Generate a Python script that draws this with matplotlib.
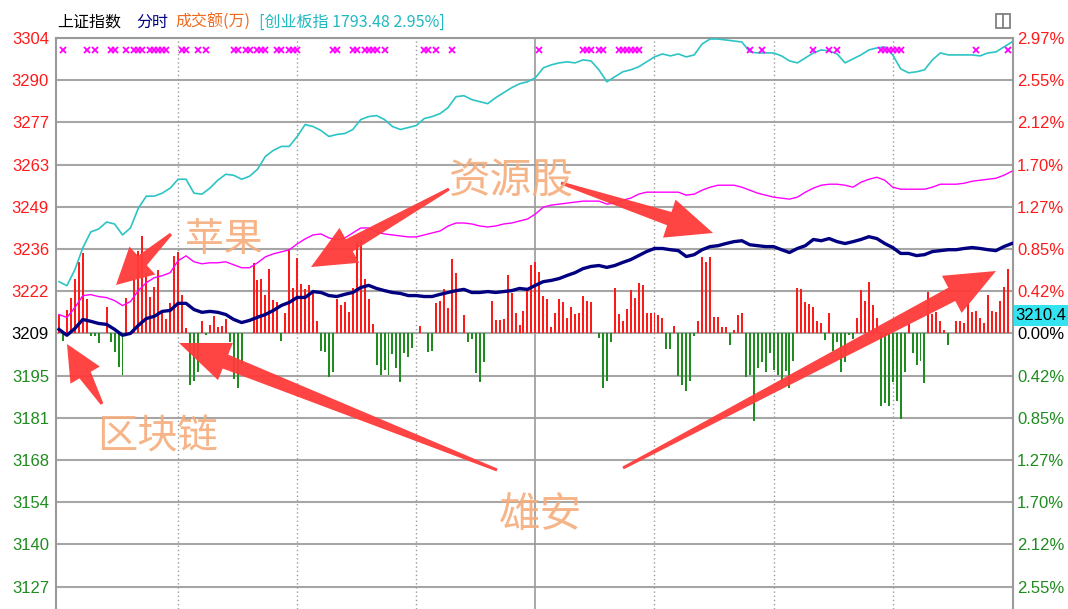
import numpy as np
import matplotlib
matplotlib.use("Agg")
import matplotlib.pyplot as plt
from matplotlib.patches import Polygon, Rectangle
from matplotlib.lines import Line2D
from matplotlib import font_manager

plt.rcParams['font.family'] = ['Noto Sans CJK SC', 'DejaVu Sans']

W, H = 1068, 609
PREV_CLOSE = 3208.7
STEP_PCT = 0.4243

# ---------------- data ----------------
minutes2 = np.arange(0, 241, 2)

sh_price = [3210.0, 3208.1, 3210.3, 3213.2, 3212.6, 3211.9, 3211.6, 3210.0, 3208.1, 3208.7,
            3211.3, 3213.5, 3214.2, 3215.8, 3216.1, 3218.4, 3218.4, 3216.4, 3215.5, 3215.8,
            3215.5, 3214.8, 3213.2, 3212.2, 3212.9, 3213.9, 3214.8, 3216.1, 3217.7, 3218.7,
            3220.3, 3220.3, 3222.2, 3221.9, 3220.9, 3220.6, 3221.3, 3221.9, 3223.5, 3224.2,
            3223.2, 3222.5, 3221.9, 3221.6, 3220.9, 3220.9, 3220.6, 3220.6, 3221.3, 3221.9,
            3222.5, 3222.9, 3221.9, 3221.9, 3222.2, 3221.9, 3222.2, 3222.5, 3223.2, 3222.9,
            3224.2,
            3225.4, 3225.8, 3226.4, 3227.4, 3228.3, 3229.6, 3230.3, 3230.6, 3230.0, 3230.6,
            3231.6, 3232.5, 3233.8, 3235.1, 3236.1, 3236.1, 3235.7, 3235.4, 3233.5, 3234.1,
            3235.7, 3236.7, 3237.0, 3237.7, 3238.3, 3238.6, 3237.3, 3237.0, 3236.7, 3236.7,
            3235.7, 3234.8, 3236.1, 3237.0, 3239.0, 3238.6, 3239.3, 3238.3, 3237.7, 3238.3,
            3239.0, 3239.9, 3239.3, 3237.7, 3236.4, 3234.5, 3234.5, 3233.8, 3234.1, 3235.1,
            3235.4, 3235.7, 3235.7, 3236.1, 3236.4, 3236.1, 3235.7, 3235.4, 3236.7, 3237.7]

cyb_pct = [0.52, 0.48, 0.64, 0.86, 1.02, 1.05, 1.12, 1.10, 0.99, 1.06,
           1.26, 1.38, 1.38, 1.41, 1.46, 1.55, 1.55, 1.41, 1.40, 1.46,
           1.54, 1.60, 1.59, 1.55, 1.58, 1.65, 1.78, 1.84, 1.88, 1.88,
           1.98, 2.10, 2.08, 2.04, 1.98, 2.00, 2.01, 2.05, 2.15, 2.18,
           2.19, 2.15, 2.08, 2.05, 2.07, 2.09, 2.16, 2.18, 2.21, 2.27,
           2.38, 2.39, 2.35, 2.33, 2.31, 2.37, 2.42, 2.47, 2.51, 2.53,
           2.57,
           2.67, 2.70, 2.72, 2.73, 2.72, 2.75, 2.74, 2.65, 2.53, 2.58,
           2.63, 2.65, 2.68, 2.73, 2.78, 2.81, 2.79, 2.81, 2.78, 2.80,
           2.91, 2.96, 2.96, 2.95, 2.94, 2.93, 2.83, 2.82, 2.82, 2.82,
           2.79, 2.74, 2.72, 2.77, 2.82, 2.85, 2.84, 2.81, 2.72, 2.76,
           2.80, 2.85, 2.87, 2.88, 2.80, 2.66, 2.62, 2.63, 2.65, 2.75,
           2.82, 2.80, 2.80, 2.80, 2.80, 2.79, 2.82, 2.83, 2.88, 2.93]

mag_pct = [0.19, 0.16, 0.26, 0.38, 0.39, 0.37, 0.36, 0.33, 0.28, 0.32,
           0.43, 0.51, 0.56, 0.58, 0.61, 0.73, 0.78, 0.72, 0.70, 0.71,
           0.71, 0.72, 0.69, 0.66, 0.66, 0.71, 0.77, 0.80, 0.82, 0.84,
           0.90, 0.95, 0.99, 1.00, 0.96, 0.94, 0.96, 1.01, 1.06, 1.06,
           1.02, 1.00, 0.99, 0.98, 0.97, 0.97, 0.99, 1.01, 1.03, 1.08,
           1.11, 1.11, 1.10, 1.08, 1.07, 1.08, 1.10, 1.11, 1.13, 1.15,
           1.20,
           1.27, 1.29, 1.30, 1.31, 1.32, 1.33, 1.33, 1.33, 1.30, 1.31,
           1.34, 1.36, 1.40, 1.42, 1.42, 1.42, 1.42, 1.42, 1.39, 1.40,
           1.44, 1.47, 1.49, 1.49, 1.49, 1.47, 1.44, 1.41, 1.39, 1.37,
           1.36, 1.35, 1.37, 1.42, 1.46, 1.49, 1.50, 1.50, 1.49, 1.47,
           1.52, 1.55, 1.57, 1.54, 1.47, 1.45, 1.45, 1.45, 1.45, 1.47,
           1.50, 1.50, 1.50, 1.51, 1.53, 1.54, 1.55, 1.56, 1.59, 1.63]

red_min = [0, 2, 3, 4, 5, 6, 7, 12, 17, 19, 20, 21, 22, 23, 24, 25, 26, 27, 28, 29, 30, 31, 32,
           36, 38, 39, 40, 41, 42, 49, 50, 51, 52, 53, 54, 55, 57, 58, 59, 60, 61, 62, 63, 64, 65,
           70, 71, 72, 73, 74, 75, 76, 77, 78, 79, 91, 95, 96, 97, 98, 99, 100, 102,
           109, 110, 111, 112, 113, 114, 115, 116, 117, 118, 119, 120, 121, 122, 123, 124, 125,
           126, 127, 128, 129, 130, 131, 132, 133, 134, 140, 141, 142, 143, 144, 145, 146, 147,
           148, 149, 150, 151, 152, 155, 161, 162, 163, 164, 165, 166, 167, 168, 170, 171, 172,
           186, 187, 188, 189, 190, 191, 192, 194, 201, 202, 203, 204, 205, 206, 214,
           219, 220, 221, 222, 223, 226, 227, 228, 229, 230, 231, 232, 233, 234, 235, 236, 237,
           238, 239]
red_val = [0.19, 0.24, 0.36, 0.55, 0.72, 0.81, 0.35, 0.27, 0.36, 0.55, 0.83, 0.98, 0.61, 0.37,
           0.47, 0.64, 0.24, 0.14, 0.31, 0.78, 0.82, 0.39, 0.05,
           0.12, 0.08, 0.17, 0.06, 0.07, 0.14, 0.71, 0.54, 0.55, 0.39, 0.65, 0.34, 0.32, 0.21,
           0.85, 0.46, 0.76, 0.50, 0.45, 0.49, 0.41, 0.12,
           0.35, 0.29, 0.32, 0.22, 0.46, 0.91, 0.94, 0.55, 0.35, 0.09, 0.07, 0.31, 0.33, 0.45,
           0.26, 0.75, 0.61, 0.19,
           0.33, 0.13, 0.13, 0.14, 0.59, 0.41, 0.21, 0.08, 0.23, 0.46, 0.69, 0.72, 0.62, 0.38,
           0.35, 0.06, 0.21,
           0.35, 0.32, 0.15, 0.27, 0.20, 0.21, 0.38, 0.33, 0.32, 0.46, 0.20, 0.12, 0.25, 0.44,
           0.36, 0.51, 0.49,
           0.21, 0.21, 0.21, 0.18, 0.15, 0.07, 0.12, 0.77, 0.72, 0.77, 0.16, 0.16, 0.06, 0.06,
           0.03, 0.18, 0.21,
           0.46, 0.45, 0.32, 0.30, 0.27, 0.12, 0.10, 0.21, 0.15, 0.44, 0.33, 0.52, 0.29, 0.15,
           0.09,
           0.42, 0.20, 0.22, 0.12, 0.03, 0.12, 0.12, 0.10, 0.31, 0.22, 0.23, 0.15, 0.10, 0.39,
           0.23, 0.22, 0.33, 0.47, 0.65]

green_min = [1, 8, 9, 10, 13, 14, 15, 16, 33, 34, 35, 37, 43, 44, 45, 46, 56, 66, 67, 68, 69,
             80, 81, 82, 83, 84, 85, 86, 87, 88, 89, 93, 94, 103, 104, 105, 106, 107,
             136, 137, 138, 139, 153, 154, 156, 157, 158, 159, 160, 169,
             173, 174, 175, 176, 177, 178, 179, 180, 181, 182, 183, 184, 185,
             193, 195, 196, 197, 198, 199, 200, 207, 208, 209, 210, 211, 212, 213,
             215, 216, 217, 218, 224]
green_val = [-0.08, -0.03, -0.03, -0.10, -0.09, -0.19, -0.34, -0.42, -0.52, -0.48, -0.39,
             -0.02, -0.09, -0.46, -0.55, -0.31, -0.08, -0.18, -0.19, -0.44, -0.39,
             -0.32, -0.42, -0.37, -0.42, -0.21, -0.35, -0.49, -0.20, -0.24, -0.15, -0.19,
             -0.18, -0.09, -0.06, -0.40, -0.49, -0.29,
             -0.05, -0.55, -0.48, -0.09, -0.16, -0.16, -0.43, -0.52, -0.58, -0.48, -0.03,
             -0.12,
             -0.44, -0.42, -0.88, -0.35, -0.29, -0.39, -0.20, -0.37, -0.42, -0.48, -0.38,
             -0.55, -0.28,
             -0.07, -0.18, -0.09, -0.39, -0.29, -0.02, -0.06, -0.73, -0.70, -0.73, -0.49,
             -0.68, -0.86, -0.39,
             -0.20, -0.32, -0.28, -0.50, -0.12]

signal_min = [1, 7, 9, 13, 14, 17, 19, 20, 21, 23, 24, 25, 26, 27, 31, 32, 35, 37, 44, 45,
              47, 48, 50, 51, 52, 55, 56, 58, 59, 60, 69, 70, 74, 75, 77, 78, 79, 80, 82,
              92, 93, 95, 99, 121, 132, 133, 134, 136, 137, 141, 142, 143, 144, 145, 146,
              174, 177, 190, 194, 196, 207, 208, 209, 210, 211, 212, 231, 239]

levels = [7, 6, 5, 4, 3, 2, 1, 0, -1, -2, -3, -4, -5, -6]
left_labels = ['3304', '3290', '3277', '3263', '3249', '3236', '3222', '3209',
               '3195', '3181', '3168', '3154', '3140', '3127']
right_labels = ['2.97%', '2.55%', '2.12%', '1.70%', '1.27%', '0.85%', '0.42%', '0.00%',
                '0.42%', '0.85%', '1.27%', '1.70%', '2.12%', '2.55%']
dotted_min = [30, 60, 90, 150, 180, 210]
noon_min = 120

header = [("上证指数", "#000000"), ("分时", "#000080"), ("成交额(万)", "#F06A1E"),
          ("[创业板指 1793.48 2.95%]", "#20B8C0")]
cursor_text = "3210.4"

RED = '#FF1A1A'
GREEN = '#1E8C1E'
GRID = '#A6A6A6'

# narrow font for axis numbers if available
_names = {f.name for f in font_manager.fontManager.ttflist}
NUM_FONT = 'Liberation Sans Narrow' if 'Liberation Sans Narrow' in _names else 'Liberation Sans'
NUM_SIZE = 13 if NUM_FONT == 'Liberation Sans Narrow' else 12

# ---------------- figure ----------------
fig = plt.figure(figsize=(W / 100, H / 100), dpi=100)
fig.patch.set_facecolor('white')
ax = fig.add_axes([56 / W, 0, (1013 - 56) / W, 1 - 38 / H])
ax.set_xlim(-0.75, 240.3)
ax.set_ylim(-2.771, 2.97)

for lv in levels:
    ax.axhline(lv * STEP_PCT, color=GRID, lw=1.5, zorder=1)
for m in dotted_min:
    ax.axvline(m, color='#9A9A9A', lw=1.0, ls=(0, (1, 2)), zorder=1)
ax.axvline(noon_min, color='#9A9A9A', lw=1.2, zorder=1)

ax.bar(red_min, red_val, width=0.5, color=RED, zorder=2, linewidth=0)
ax.bar(green_min, green_val, width=0.5, color=GREEN, zorder=2, linewidth=0)

ax.plot(minutes2, mag_pct, color='#FF00FF', lw=1.0, zorder=3)
ax.plot(minutes2, cyb_pct, color='#2CC4C4', lw=1.2, zorder=3)
sh_pct = (np.array(sh_price) / PREV_CLOSE - 1) * 100
ax.plot(minutes2, sh_pct, color='#000080', lw=2.4, zorder=5, solid_joinstyle='round')

ax.plot(signal_min, [2.85] * len(signal_min), ls='none', marker='x', color='#FF00FF',
        ms=4.5, mew=1.3, zorder=4)

ticks = [lv * STEP_PCT for lv in levels]
def lvl_color(lv):
    return RED if lv > 0 else ('#000000' if lv == 0 else GREEN)

ax.set_xticks([])
ax.set_yticks(ticks)
ax.set_yticklabels(left_labels, fontfamily=NUM_FONT, fontsize=NUM_SIZE)
for lab, lv in zip(ax.get_yticklabels(), levels):
    lab.set_color(lvl_color(lv))
ax.tick_params(axis='y', length=0, pad=5)
for side in ['top', 'left', 'right']:
    ax.spines[side].set_color('#9A9A9A')
    ax.spines[side].set_linewidth(1.5)
ax.spines['bottom'].set_visible(False)

ax2 = ax.twinx()
ax2.set_ylim(ax.get_ylim())
ax2.set_yticks(ticks)
ax2.set_yticklabels(right_labels, fontfamily=NUM_FONT, fontsize=NUM_SIZE)
for lab, lv in zip(ax2.get_yticklabels(), levels):
    lab.set_color(lvl_color(lv))
ax2.tick_params(axis='y', length=0, pad=3)
for s in ax2.spines.values():
    s.set_visible(False)

# ---------------- header ----------------
hx = [57, 136, 175, 259]
for (txt, col), x in zip(header, hx):
    fig.text(x / W, 1 - 22 / H, txt, color=col, fontsize=11.5, va='center', ha='left')

# icon at top right
fig.add_artist(Rectangle((996 / W, 1 - 28 / H), 14 / W, 14 / H, fill=False,
                         edgecolor='#808080', lw=1.3, transform=fig.transFigure))
fig.add_artist(Line2D([1003 / W, 1003 / W], [1 - 28 / H, 1 - 14 / H], color='#808080',
                      lw=1.3, transform=fig.transFigure))

# cursor value box
fig.add_artist(Rectangle((1014 / W, 1 - 326 / H), 54 / W, 21 / H, facecolor='#33E4F0',
                         edgecolor='none', transform=fig.transFigure, zorder=5))
fig.text(1041 / W, 1 - 315.5 / H, cursor_text, fontfamily=NUM_FONT, fontsize=NUM_SIZE,
         color='black', ha='center', va='center', zorder=6)

# ---------------- annotations ----------------
def arrow(tail, tip, w_tail, w_neck, head_w, head_len, color='#FF3A3A'):
    t = np.array(tail, float)
    p = np.array(tip, float)
    u = (p - t) / np.linalg.norm(p - t)
    n = np.array([-u[1], u[0]])
    neck = p - u * head_len
    pts = [t + n * w_tail / 2, neck + n * w_neck / 2, neck + n * head_w / 2, p,
           neck - n * head_w / 2, neck - n * w_neck / 2, t - n * w_tail / 2]
    pts = [(q[0] / W, 1 - q[1] / H) for q in pts]
    fig.add_artist(Polygon(pts, closed=True, facecolor=color, edgecolor='none',
                           alpha=0.95, transform=fig.transFigure, zorder=7))

arrow((171, 234), (116, 285), 3, 13, 38, 36)
arrow((449, 189), (311, 267), 3, 14, 40, 44)
arrow((561, 183), (713, 233), 3, 14, 40, 46)
arrow((102, 404), (67, 344), 3, 13, 34, 36)
arrow((497, 470), (179, 343), 3, 15, 40, 50)
arrow((623, 468), (996, 271), 3, 15, 42, 50)

ann_color = '#F6AC7C'
for txt, x, y, fs in [("苹果", 185, 240, 28), ("资源股", 449, 182, 30),
                      ("区块链", 97, 437, 29), ("雄安", 499, 515, 30)]:
    fig.text(x / W, 1 - y / H, txt, color=ann_color, fontsize=fs, ha='left', va='center',
             fontweight='light', alpha=0.9, zorder=8)

fig.savefig('out.png', dpi=100, facecolor='white')
